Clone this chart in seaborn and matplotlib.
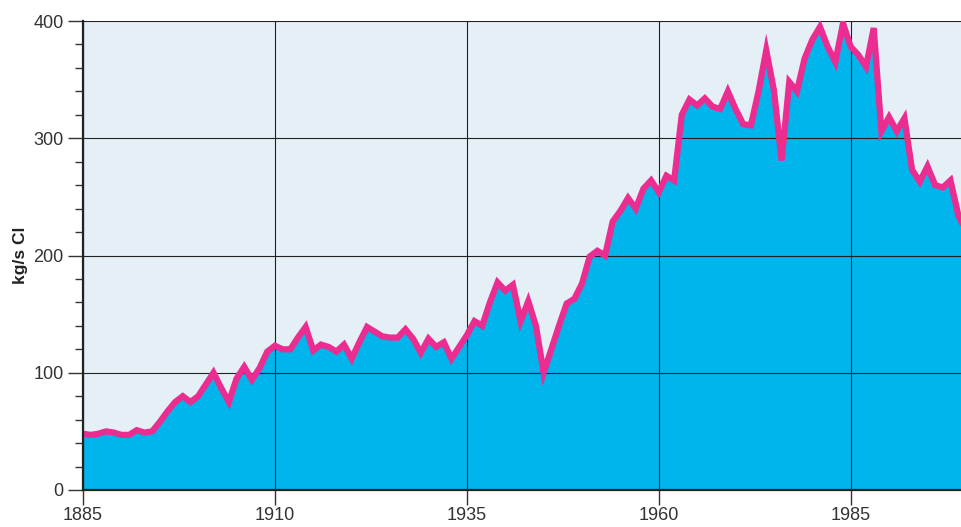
import numpy as np
import pandas as pd
import matplotlib
matplotlib.use("Agg")
import matplotlib.pyplot as plt
from matplotlib.ticker import MultipleLocator
import seaborn as sns

# chlorine load, kg/s Cl, one value per year 1885..2000
years = list(range(1885, 2001))
cl_load = [
    48, 47, 48, 50, 49, 47, 47, 51, 49, 50,        # 1885-1894
    58, 67, 75, 80, 75, 80, 90, 100, 87, 75,       # 1895-1904
    95, 105, 94, 104, 118, 123, 120, 120, 130, 139,  # 1905-1914
    119, 124, 122, 118, 124, 112, 126, 139, 135, 131,  # 1915-1924
    130, 130, 137, 129, 117, 129, 122, 126, 112, 122,  # 1925-1934
    132, 144, 140, 160, 177, 170, 175, 144, 161, 140,  # 1935-1944
    100, 120, 140, 159, 163, 176, 199, 204, 200, 229,  # 1945-1954
    238, 249, 240, 257, 264, 254, 268, 264, 320, 333,  # 1955-1964
    328, 334, 327, 325, 340, 325, 312, 311, 340, 375,  # 1965-1974
    341, 281, 348, 340, 368, 384, 395, 378, 365, 398,  # 1975-1984
    378, 371, 361, 394, 306, 318, 306, 317, 273, 263,  # 1985-1994
    276, 260, 258, 264, 235, 220,                      # 1995-2000
]
x_ticks = [1885, 1910, 1935, 1960, 1985]
y_ticks = [0, 100, 200, 300, 400]

df = pd.DataFrame({"year": years, "load": cl_load})

sns.set_style("white")
plt.rcParams["font.family"] = ["Liberation Sans", "DejaVu Sans"]

fig = plt.figure(figsize=(9.62, 5.27), dpi=100)
ax = fig.add_axes([83 / 962, 1 - 490 / 527, 1 - 83 / 962, (490 - 21) / 527])
ax.set_facecolor("#e4eff6")

ax.fill_between(df["year"], df["load"], 0, color="#00b4ec", linewidth=0, zorder=1)
sns.lineplot(data=df, x="year", y="load", ax=ax, color="#eb2c90", linewidth=4.5,
             zorder=3, solid_joinstyle="miter")

ax.set_xlim(1885, 1999.5)
ax.set_ylim(0, 400)
ax.set_xticks(x_ticks)
ax.set_yticks(y_ticks)
ax.yaxis.set_minor_locator(MultipleLocator(20))

ax.grid(True, which="major", color="#222222", linewidth=0.8)
ax.set_axisbelow(False)
for gl in ax.get_xgridlines() + ax.get_ygridlines():
    gl.set_zorder(2)

for s in ["top", "right"]:
    ax.spines[s].set_visible(False)
for s in ["left", "bottom"]:
    ax.spines[s].set_color("#222222")
    ax.spines[s].set_linewidth(1.6)
    ax.spines[s].set_zorder(4)

ax.tick_params(axis="both", which="major", direction="out", length=11, width=1.0,
               color="#333333", labelsize=13, labelcolor="#333333", pad=3)
ax.tick_params(axis="y", which="minor", direction="out", length=6, width=1.0,
               color="#333333")
ax.tick_params(axis="x", which="major", length=11, pad=1)
ax.tick_params(left=True, bottom=True, which="both")

ax.set_xlabel("")
ax.set_ylabel("kg/s Cl", fontsize=12.5, fontweight="bold", color="#222222", labelpad=4)

fig.savefig("out.png", dpi=100)
